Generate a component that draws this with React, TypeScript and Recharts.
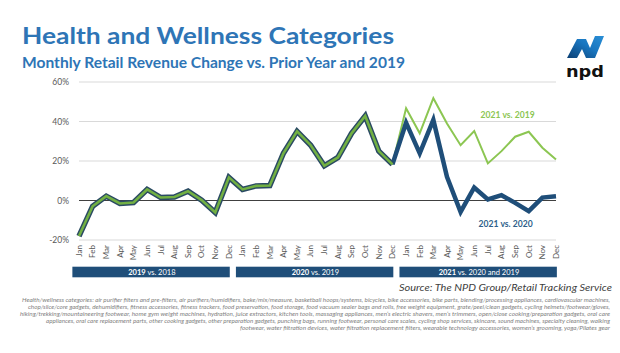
import React from 'react';
import { LineChart, Line, XAxis, YAxis, CartesianGrid, ReferenceLine, ReferenceDot } from 'recharts';

const MONTHS = ['Jan', 'Feb', 'Mar', 'Apr', 'May', 'Jun', 'Jul', 'Aug', 'Sep', 'Oct', 'Nov', 'Dec'];
const YEARS = ['2019', '2020', '2021'];
// Combined line 2019 vs 2018 and 2020 vs 2019 (%)
const CHANGE_2019_VS_2018 = [-18, -2.9, 2.2, -1.5, -1, 5.6, 1.5, 1.8, 4.7, 0.2, -6.1, 11.7];
const CHANGE_2020_VS_2019 = [5.6, 7.4, 7.6, 23.9, 35, 28, 17.6, 21.8, 34, 42.8, 25, 18.3];
const CHANGE_2021_VS_2019 = [46.7, 34, 51.8, 39, 28, 35.2, 18.8, 25, 32.3, 34.8, 26.7, 20.8];
const CHANGE_2021_VS_2020 = [39.4, 23.9, 40.8, 12, -5.8, 6.6, 0.5, 2.7, -1.2, -5.4, 1.5, 2.2];
const Y_TICKS = [-20, 0, 20, 40, 60];
const PERIODS = [
  { first: 'Jan-2019', bold: '2019', rest: ' vs. 2018' },
  { first: 'Jan-2020', bold: '2020', rest: ' vs. 2019' },
  { first: 'Jan-2021', bold: '2021', rest: ' vs. 2020 and 2019' },
];
const LABEL_2019 = '2021 vs. 2019';
const LABEL_2020 = '2021 vs. 2020';

const TITLE = 'Health and Wellness Categories';
const SUBTITLE = 'Monthly Retail Revenue Change vs. Prior Year and 2019';
const SOURCE = 'Source: The NPD Group/Retail Tracking Service';
const FOOTNOTE = [
  'Health/wellness  categories: air purifier filters and pre-filters,  air purifiers/humidifiers,  bake/mix/measure,  basketball hoops/systems, bicycles,  bike accessories, bike parts, blending/processing appliances, cardiovascular machines,',
  'chop/slice/core gadgets,  dehumidifiers,  fitness accessories,  fitness trackers,  food preservation,  food storage, food vacuum sealer bags and rolls,  free weight equipment,  grate/peel/clean  gadgets, cycling helmets/footwear/gloves,',
  'hiking/trekking/mountaineering  footwear,  home gym weight machines,  hydration, juice extractors, kitchen tools, massaging appliances, men\u2019s electric  shavers, men\u2019s  trimmers,  open/close cooking/preparation gadgets, oral care',
  'appliances, oral care replacement parts,  other cooking gadgets, other preparation gadgets, punching bags, running footwear, personal care scales, cycling shop services, skincare, sound machines, specialty cleaning,  walking',
  'footwear,  water  filtration devices,  water  filtration replacement  filters,  wearable  technology accessories,  women\u2019s  grooming,  yoga/Pilates gear',
];
const FOOT_START = [22, 28, 20, 46, 240];

const baseSeries = [...CHANGE_2019_VS_2018, ...CHANGE_2020_VS_2019];
type Row = { key: string; base: number | null; vs2019: number | null; vs2020: number | null };
const data: Row[] = [];
YEARS.forEach((yr, yi) => {
  MONTHS.forEach((m, mi) => {
    const i = yi * 12 + mi;
    const row: Row = { key: `${m}-${yr}`, base: null, vs2019: null, vs2020: null };
    if (i < 24) row.base = baseSeries[i];
    if (i === 23) {
      row.vs2019 = baseSeries[i];
      row.vs2020 = baseSeries[i];
    }
    if (i >= 24) {
      row.vs2019 = CHANGE_2021_VS_2019[i - 24];
      row.vs2020 = CHANGE_2021_VS_2020[i - 24];
    }
    data.push(row);
  });
});

const FONT = 'Lato, "Open Sans", sans-serif';

const MonthTick = (props: any) => {
  const { x, y, payload } = props;
  const label = String(payload.value).split('-')[0];
  return (
    <text
      x={x}
      y={y}
      transform={`rotate(-90 ${x} ${y})`}
      textAnchor="end"
      dy="0.35em"
      fontSize={8}
      fill="#595959"
      fontFamily={FONT}
    >
      {label}
    </text>
  );
};

const PeriodTick = (props: any) => {
  const { x, y, payload } = props;
  const p = PERIODS.find((q) => q.first === payload.value);
  if (!p) return <g />;
  const half = payload.offset && payload.offset > 0 ? payload.offset : 6.625;
  const bw = half * 2;
  const left = x - half;
  return (
    <g>
      <rect x={left} y={y + 0.7} width={bw * 12 - 1.6} height={10.6} fill="#1f4e79" />
      <text
        x={left + bw * 6}
        y={y + 6}
        textAnchor="middle"
        dominantBaseline="central"
        fontSize={7.5}
        fill="#ffffff"
        fontFamily={FONT}
      >
        <tspan fontWeight="bold">{p.bold}</tspan>
        <tspan>{p.rest}</tspan>
      </text>
    </g>
  );
};

const makeLabel = (text: string, color: string, dx: number) => (p: any) => (
  <text
    x={p.cx + dx}
    y={p.cy}
    textAnchor="middle"
    dominantBaseline="central"
    fontSize={10}
    fontWeight="bold"
    fill={color}
    fontFamily={FONT}
    textLength={54}
    lengthAdjust="spacingAndGlyphs"
  >
    {text}
  </text>
);

export default function App() {
  return (
    <div style={{ position: 'absolute', left: 0, top: 0, width: 620, height: 353, background: '#ffffff' }}>
      <div style={{ position: 'absolute', left: 0, top: 0 }}>
        <LineChart
          width={620}
          height={353}
          data={data}
          margin={{ top: 82, right: 64, left: 0, bottom: 75 }}
        >
          <CartesianGrid horizontal vertical={false} stroke="#d9d9d9" strokeWidth={1} />
          <XAxis
            dataKey="key"
            height={26}
            tickLine={false}
            axisLine={false}
            tickSize={0}
            tickMargin={5}
            interval={0}
            tick={<MonthTick />}
          />
          <XAxis
            xAxisId="period"
            dataKey="key"
            height={12}
            tickLine={false}
            axisLine={false}
            tickSize={0}
            tickMargin={0}
            interval={0}
            tick={<PeriodTick />}
          />
          <YAxis
            width={79}
            domain={[-20, 60]}
            ticks={Y_TICKS}
            tickFormatter={(v: number) => `${v}%`}
            tickLine={false}
            axisLine={false}
            tickMargin={4}
            tick={{ fontSize: 8.5, fill: '#595959', fontFamily: FONT }}
          />
          <ReferenceLine y={0} stroke="#404040" strokeWidth={1.2} />
          <Line
            dataKey="vs2019"
            stroke="#8cc652"
            strokeWidth={2}
            dot={false}
            isAnimationActive={false}
          />
          <Line
            dataKey="vs2020"
            stroke="#1f4e79"
            strokeWidth={4.5}
            dot={false}
            isAnimationActive={false}
          />
          <Line
            dataKey="base"
            stroke="#2a4a63"
            strokeWidth={5.5}
            dot={false}
            isAnimationActive={false}
          />
          <Line
            dataKey="base"
            stroke="#72b043"
            strokeWidth={2.6}
            dot={false}
            isAnimationActive={false}
          />
          <ReferenceDot x="Sep-2021" y={44} r={1} shape={makeLabel(LABEL_2019, '#8cc652', -7.5)} />
          <ReferenceDot x="Sep-2021" y={-11.5} r={1} shape={makeLabel(LABEL_2020, '#2e5f8a', -9.5)} />
        </LineChart>
      </div>
      <svg
        width={620}
        height={353}
        style={{ position: 'absolute', left: 0, top: 0, pointerEvents: 'none' }}
      >
        <text
          x={22}
          y={44}
          fontSize={23}
          fontWeight="bold"
          fill="#2e75b6"
          fontFamily={FONT}
          textLength={372}
          lengthAdjust="spacingAndGlyphs"
        >
          {TITLE}
        </text>
        <text
          x={22}
          y={68}
          fontSize={16}
          fontWeight="bold"
          fill="#2e75b6"
          fontFamily={FONT}
          textLength={383}
          lengthAdjust="spacingAndGlyphs"
        >
          {SUBTITLE}
        </text>
        <defs>
          <linearGradient id="npdg" x1="0" y1="1" x2="1" y2="0">
            <stop offset="0%" stopColor="#0b3f73" />
            <stop offset="55%" stopColor="#1976c0" />
            <stop offset="100%" stopColor="#2a8fd6" />
          </linearGradient>
        </defs>
        <path
          d="M567,58 L577,39 L586,39 L590,48 L595,36 L604,36 L595,58 L586,58 L582,49 L577,58 Z"
          fill="url(#npdg)"
        />
        <text
          x={566}
          y={77}
          fontSize={16}
          fontWeight="bold"
          fill="#111111"
          fontFamily='"DejaVu Sans", sans-serif'
          textLength={38}
          lengthAdjust="spacingAndGlyphs"
        >
          npd
        </text>
        <text
          x={612}
          y={291}
          textAnchor="end"
          fontSize={10}
          fontStyle="italic"
          fill="#404040"
          fontFamily={FONT}
          textLength={213}
          lengthAdjust="spacingAndGlyphs"
        >
          {SOURCE}
        </text>
        {FOOTNOTE.map((line, i) => (
          <text
            key={i}
            x={FOOT_START[i]}
            y={302 + i * 6.9}
            fontSize={5.3}
            fontStyle="italic"
            fill="#7f7f7f"
            fontFamily={FONT}
            textLength={610 - FOOT_START[i]}
            lengthAdjust="spacingAndGlyphs"
          >
            {line}
          </text>
        ))}
      </svg>
    </div>
  );
}
